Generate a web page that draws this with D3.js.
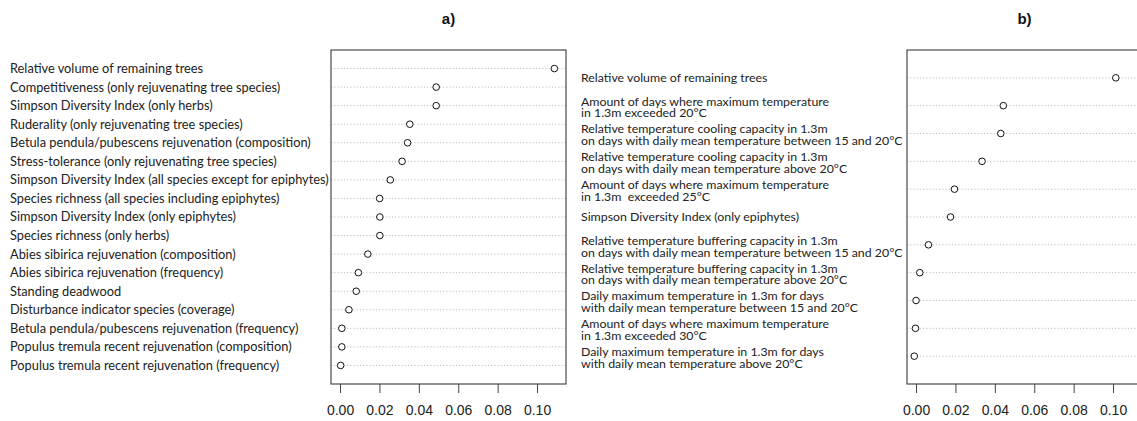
<!DOCTYPE html>
<html>
<head>
<meta charset="utf-8">
<script src="https://cdn.jsdelivr.net/npm/d3@7"></script>
<style>
  html, body { margin: 0; padding: 0; background: #fff; }
  svg { display: block; }
  .lab { font-family: Lato, "Open Sans", sans-serif; fill: #222; white-space: pre; }
  .tick text { font-family: "Liberation Sans", Arial, sans-serif; }
</style>
</head>
<body>
<script>
// ---- data (top to bottom) ----
const titleA = "a)";
const labelsA = [
  "Relative volume of remaining trees",
  "Competitiveness (only rejuvenating tree species)",
  "Simpson Diversity Index (only herbs)",
  "Ruderality (only rejuvenating tree species)",
  "Betula pendula/pubescens rejuvenation (composition)",
  "Stress-tolerance (only rejuvenating tree species)",
  "Simpson Diversity Index (all species except for epiphytes)",
  "Species richness (all species including epiphytes)",
  "Simpson Diversity Index (only epiphytes)",
  "Species richness (only herbs)",
  "Abies sibirica rejuvenation (composition)",
  "Abies sibirica rejuvenation (frequency)",
  "Standing deadwood",
  "Disturbance indicator species (coverage)",
  "Betula pendula/pubescens rejuvenation (frequency)",
  "Populus tremula recent rejuvenation (composition)",
  "Populus tremula recent rejuvenation (frequency)"
];
const valuesA = [0.1088, 0.0488, 0.0488, 0.0354, 0.0343, 0.0315, 0.0255, 0.0201,
                 0.0202, 0.0202, 0.0141, 0.0093, 0.0082, 0.0045, 0.0009, 0.0009, 0.0003];

const titleB = "b)";
const labelsB = [
  "Relative volume of remaining trees",
  "Amount of days where maximum temperature\nin 1.3m exceeded 20°C",
  "Relative temperature cooling capacity in 1.3m\non days with daily mean temperature between 15 and 20°C",
  "Relative temperature cooling capacity in 1.3m\non days with daily mean temperature above 20°C",
  "Amount of days where maximum temperature\nin 1.3m  exceeded 25°C",
  "Simpson Diversity Index (only epiphytes)",
  "Relative temperature buffering capacity in 1.3m\non days with daily mean temperature between 15 and 20°C",
  "Relative temperature buffering capacity in 1.3m\non days with daily mean temperature above 20°C",
  "Daily maximum temperature in 1.3m for days\nwith daily mean temperature between 15 and 20°C",
  "Amount of days where maximum temperature\nin 1.3m exceeded 30°C",
  "Daily maximum temperature in 1.3m for days\nwith daily mean temperature above 20°C"
];
const valuesB = [0.1014, 0.0443, 0.0430, 0.0335, 0.0195, 0.0175, 0.0063, 0.0019, 0.0000, -0.0003, -0.0009];

const tickValues = [0.00, 0.02, 0.04, 0.06, 0.08, 0.10];

// ---- layout ----
const W = 1137, H = 421;
const svg = d3.select("body").append("svg").attr("width", W).attr("height", H);

function panel(opts) {
  const { labels, values, title, x0, x1, labelX, fontSize, lineGap } = opts;
  const top = 50, bottom = 384;
  const n = labels.length;
  const x = d3.scaleLinear().domain([-0.0046, 0.1147]).range([x0, x1]);
  const y = d3.scaleLinear().domain([0, n + 1]).range([bottom, top]);
  const g = svg.append("g");

  // title
  g.append("text")
    .attr("x", (x0 + x1) / 2).attr("y", 24)
    .attr("text-anchor", "middle")
    .style("font-family", "'Liberation Sans', Arial, sans-serif")
    .style("font-weight", "bold").style("font-size", "15px").attr("fill", "#111")
    .text(title);

  // dotted guide lines
  g.selectAll("line.guide").data(values).join("line")
    .attr("class", "guide")
    .attr("x1", x0).attr("x2", x1)
    .attr("y1", (d, i) => y(n - i)).attr("y2", (d, i) => y(n - i))
    .attr("stroke", "#bdbdbd").attr("stroke-width", 1)
    .attr("stroke-dasharray", "1.2,2");

  // box
  g.append("rect")
    .attr("x", x0).attr("y", top).attr("width", x1 - x0).attr("height", bottom - top)
    .attr("fill", "none").attr("stroke", "#4a4a4a").attr("stroke-width", 1.2);

  // points
  g.selectAll("circle").data(values).join("circle")
    .attr("cx", d => x(d)).attr("cy", (d, i) => y(n - i))
    .attr("r", 3.3).attr("fill", "#fff").attr("stroke", "#111").attr("stroke-width", 1);

  // x axis
  const ax = g.append("g").attr("transform", `translate(0,${bottom})`)
    .call(d3.axisBottom(x).tickValues(tickValues).tickFormat(d3.format(".2f"))
      .tickSize(9).tickPadding(12));
  ax.select(".domain").remove();
  ax.selectAll(".tick line").attr("stroke", "#444");
  ax.selectAll(".tick text").attr("fill", "#222").style("font-size", "14px");

  // labels
  labels.forEach((lab, i) => {
    const lines = lab.split("\n");
    const cy = y(n - i) + (lines.length > 1 ? 1.5 : 0);
    const t = g.append("text").attr("class", "lab")
      .style("font-size", fontSize + "px");
    lines.forEach((ln, k) => {
      const off = (k - (lines.length - 1) / 2) * lineGap;
      t.append("tspan").attr("x", labelX).attr("y", cy + off)
        .attr("dy", "0.35em").text(ln);
    });
  });
}

panel({ labels: labelsA, values: valuesA, title: titleA, x0: 331, x1: 566, labelX: 10, fontSize: 12.8, lineGap: 12 });
panel({ labels: labelsB, values: valuesB, title: titleB, x0: 907, x1: 1142, labelX: 581, fontSize: 12.35, lineGap: 11.8 });
</script>
</body>
</html>
